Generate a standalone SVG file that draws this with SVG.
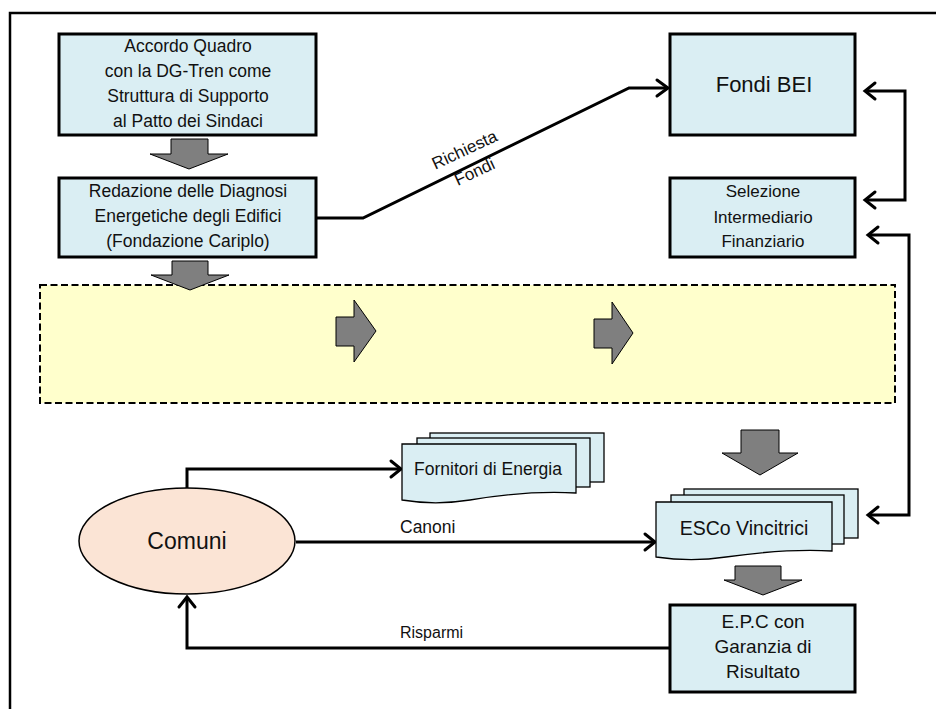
<svg xmlns="http://www.w3.org/2000/svg" width="936" height="709" viewBox="0 0 936 709">
<style>
.box{fill:#DAEEF3;stroke:#000;stroke-width:3}
.doc{fill:#DAEEF3;stroke:#000;stroke-width:1.3}
.gar{fill:#7F7F7F;stroke:#000;stroke-width:1}
.con{fill:none;stroke:#000;stroke-width:3}
.head{fill:none;stroke:#000;stroke-width:3;stroke-linecap:round;stroke-linejoin:miter}
text{font-family:"Liberation Sans",Arial,sans-serif;fill:#111;text-anchor:middle}
.t{font-size:17.5px}
.lbl{font-size:17px;text-anchor:start}
</style>
<rect width="936" height="709" fill="#fff"/>
<rect x="10" y="13" width="940" height="710" fill="none" stroke="#000" stroke-width="2.5"/>

<g id="yellow-area">
<rect x="40" y="285" width="855" height="118" fill="#FFFFCC" stroke="#000" stroke-width="2" stroke-dasharray="7,3.5"/>
<path class="gar" d="M336,317 H354 V300 L376,331 L354,362 V346 H336 Z"/>
<path class="gar" d="M594,319 H612 V302 L633,333 L612,364 V348 H594 Z"/>
</g>

<g id="block-arrows">
<path class="gar" d="M171,139 H208 V154 H228 L189,169 L150,154 H171 Z"/>
<path class="gar" d="M172,261 H208 V275 H229 L190,290 L151,275 H172 Z"/>
<path class="gar" d="M741,430 H779 V453 H798 L760,475 L722,453 H741 Z"/>
<path class="gar" d="M735,566 H781 V580 H802 L763,595 L724,580 H735 Z"/>
</g>

<g id="connectors">
<polyline class="con" points="316,218 363,218 629,88 667,88"/>
<path class="head" d="M657,80 L668,88 L657,96"/>
<text transform="translate(467,155) rotate(-25)" style="font-size:17px">Richiesta</text>
<text transform="translate(477,177) rotate(-25)" style="font-size:17px">Fondi</text>

<polyline class="con" points="866,91 905,91 905,200 866,200"/>
<path class="head" d="M875,83 L865,91 L875,99"/>
<path class="head" d="M875,192 L865,200 L875,208"/>

<polyline class="con" points="870,235 909,235 909,515 870,515"/>
<path class="head" d="M878,227 L868,235 L878,243"/>
<path class="head" d="M878,507 L868,515 L878,523"/>

<polyline class="con" points="187,488 187,469 400,469"/>
<path class="head" d="M391,461 L401,469 L391,477"/>

<polyline class="con" points="296,542 654,542"/>
<path class="head" d="M645,534 L655,542 L645,550"/>
<text class="lbl" x="400" y="533" style="font-size:17.5px">Canoni</text>

<polyline class="con" points="670,648 187,648 187,598"/>
<path class="head" d="M179,607 L187,597 L195,607"/>
<text class="lbl" x="400" y="638" style="font-size:16px">Risparmi</text>
</g>

<g id="accordo">
<rect class="box" x="59" y="34" width="257" height="101"/>
<text class="t" x="188" y="52">Accordo Quadro</text>
<text class="t" x="188" y="77">con la DG-Tren come</text>
<text class="t" x="188" y="102">Struttura di Supporto</text>
<text class="t" x="188" y="127">al Patto dei Sindaci</text>
</g>

<g id="redazione">
<rect class="box" x="59" y="178" width="257" height="79"/>
<text class="t" x="188" y="197">Redazione delle Diagnosi</text>
<text class="t" x="188" y="222">Energetiche degli Edifici</text>
<text class="t" x="188" y="247">(Fondazione Cariplo)</text>
</g>

<g id="fondi-bei">
<rect class="box" x="670" y="34" width="185" height="101"/>
<text x="764" y="92" style="font-size:22px">Fondi BEI</text>
</g>

<g id="selezione">
<rect class="box" x="670" y="178" width="185" height="79"/>
<text x="763" y="197" style="font-size:17px">Selezione</text>
<text x="763" y="223" style="font-size:17px">Intermediario</text>
<text x="763" y="247" style="font-size:17px">Finanziario</text>
</g>

<g id="fornitori">
<rect class="doc" x="430" y="433" width="174" height="49"/>
<rect class="doc" x="417" y="438" width="173" height="49"/>
<path class="doc" d="M402,444 H576 V493 C540,491 505,494 470,500 C445,504 420,503 402,500 Z"/>
<text x="488" y="475" style="font-size:17.5px">Fornitori di Energia</text>
</g>

<g id="esco">
<rect class="doc" x="684" y="489" width="174" height="49"/>
<rect class="doc" x="671" y="495" width="173" height="49"/>
<path class="doc" d="M656,502 H832 V551 C796,549 761,552 726,557 C700,561 676,560 656,557 Z"/>
<text x="744" y="535" style="font-size:19.5px">ESCo Vincitrici</text>
</g>

<g id="comuni">
<ellipse cx="187" cy="541" rx="108" ry="53" fill="#FBE4D5" stroke="#000" stroke-width="1.5"/>
<text x="187" y="549" style="font-size:23px">Comuni</text>
</g>

<g id="epc">
<rect class="box" x="670" y="605" width="185" height="87"/>
<text x="763" y="628" style="font-size:19px">E.P.C con</text>
<text x="763" y="653" style="font-size:19px">Garanzia di</text>
<text x="763" y="678" style="font-size:19px">Risultato</text>
</g>
</svg>
